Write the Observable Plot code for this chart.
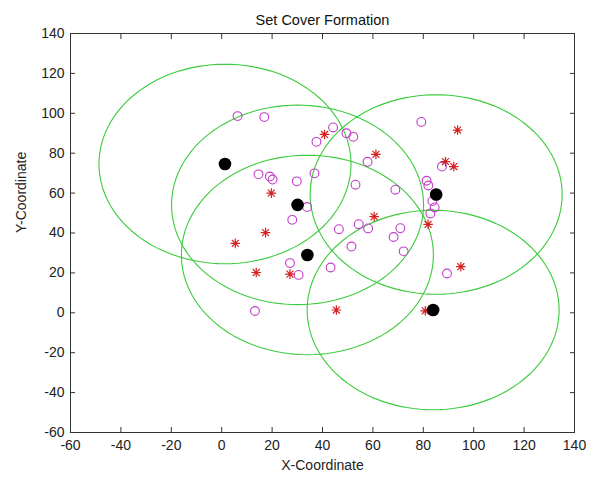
<!DOCTYPE html>
<html>
<head>
<meta charset="utf-8">
<script src="https://cdn.jsdelivr.net/npm/d3@7"></script>
<script src="https://cdn.jsdelivr.net/npm/@observablehq/plot@0.6"></script>
<style>
  html, body { margin: 0; padding: 0; background: #fff; }
  #chart { width: 595px; height: 477px; }
</style>
</head>
<body>
<div id="chart"></div>
<script>
// ---- data ----
const titleText = "Set Cover Formation";
const xLabel = "X-Coordinate";
const yLabel = "Y-Coordinate";
const xTicks = [-60, -40, -20, 0, 20, 40, 60, 80, 100, 120, 140];
const yTicks = [-60, -40, -20, 0, 20, 40, 60, 80, 100, 120, 140];

// hollow magenta circles
const circleX = [6.3, 16.9, 44.2, 49.5, 52.2, 37.6, 14.6, 19.1, 20.2, 29.8, 36.8, 33.9, 28.0, 46.5, 51.5, 43.2, 27.1, 30.5, 13.2,
                 79.2, 57.9, 87.4, 53.1, 68.9, 81.3, 82.0, 83.6, 84.5, 82.8, 54.4, 58.1, 70.9, 68.2, 72.2, 89.4];
const circleY = [98.6, 98.1, 92.9, 90.0, 88.2, 85.7, 69.4, 68.3, 66.8, 65.9, 69.9, 53.0, 46.6, 41.9, 33.2, 22.7, 24.9, 19.0, 0.9,
                 95.7, 75.7, 73.3, 64.2, 61.7, 66.2, 63.8, 56.1, 52.8, 49.8, 44.4, 42.3, 42.4, 38.0, 30.8, 19.7];

// red star points
const starX = [40.8, 19.7, 93.6, 61.2, 88.8, 92.1, 81.9, 60.5, 94.9, 80.8, 17.4, 5.4, 13.7, 27.1, 45.5];
const starY = [89.4, 60.0, 91.6, 79.4, 75.8, 73.3, 44.3, 48.2, 23.1, 1.0, 40.2, 34.8, 20.2, 19.4, 1.4];

// black cover centres and their coverage radius
const centerX = [1.3, 30.1, 34.0, 85.1, 83.9];
const centerY = [74.6, 54.1, 29.0, 59.3, 1.4];
const coverRadius = 50;

// ---- tables built from the arrays ----
const circles = circleX.map((x, i) => ({x, y: circleY[i]}));
const stars = starX.map((x, i) => ({x, y: starY[i]}));
const centers = centerX.map((x, i) => ({x, y: centerY[i]}));
const angles = d3.range(0, 361, 3).map(a => a * Math.PI / 180);
const rings = centers.flatMap((c, id) => angles.map(t => ({
  id, x: c.x + coverRadius * Math.cos(t), y: c.y + coverRadius * Math.sin(t)
})));

// MATLAB-like '*' marker (plus + cross)
const starSymbol = {
  draw(ctx, size) {
    const r = Math.sqrt(size / Math.PI);
    const d = r * 0.72;
    ctx.moveTo(-r, 0); ctx.lineTo(r, 0);
    ctx.moveTo(0, -r); ctx.lineTo(0, r);
    ctx.moveTo(-d, -d); ctx.lineTo(d, d);
    ctx.moveTo(-d, d); ctx.lineTo(d, -d);
  }
};

const green = "#3ccb3c";
const magenta = "#c23cc8";
const red = "#d42020";
const fmt = d => String(d);

const chart = Plot.plot({
  width: 595,
  height: 477,
  marginLeft: 70,
  marginRight: 21,
  marginTop: 33,
  marginBottom: 45,
  style: {fontFamily: "'Liberation Sans', Arial, sans-serif", fontSize: "14px", background: "#fff", color: "#222"},
  x: {domain: [-60, 140]},
  y: {domain: [-60, 140]},
  marks: [
    Plot.line(rings, {x: "x", y: "y", z: "id", stroke: green, strokeWidth: 1.1}),
    Plot.dot(circles, {x: "x", y: "y", r: 4.4, stroke: magenta, strokeWidth: 1.1, fill: "none"}),
    Plot.dot(stars, {x: "x", y: "y", r: 4.8, symbol: starSymbol, stroke: red, strokeWidth: 1.2, fill: "none"}),
    Plot.dot(centers, {x: "x", y: "y", r: 6.3, fill: "#000", stroke: "none"}),
    Plot.frame({stroke: "#333", strokeWidth: 1}),
    // inward ticks on all four sides
    Plot.axisX({ticks: xTicks, anchor: "bottom", tickSize: -5, text: null, label: null, stroke: "#333"}),
    Plot.axisX({ticks: xTicks, anchor: "top", tickSize: -5, text: null, label: null, stroke: "#333"}),
    Plot.axisY({ticks: yTicks, anchor: "left", tickSize: -5, text: null, label: null, stroke: "#333"}),
    Plot.axisY({ticks: yTicks, anchor: "right", tickSize: -5, text: null, label: null, stroke: "#333"}),
    // tick labels
    Plot.axisX({ticks: xTicks, anchor: "bottom", tickSize: 0, tickPadding: 8, tickFormat: fmt, label: null, fill: "#222"}),
    Plot.axisY({ticks: yTicks, anchor: "left", tickSize: 0, tickPadding: 6, tickFormat: fmt, label: null, fill: "#222"}),
    // titles
    Plot.text([titleText], {frameAnchor: "top", dy: -19, fill: "#111", fontSize: 14.5}),
    Plot.text([xLabel], {frameAnchor: "bottom", dy: 37, fill: "#222"}),
    Plot.text([yLabel], {frameAnchor: "left", dx: -49, rotate: -90, fill: "#222"})
  ]
});
document.getElementById("chart").appendChild(chart);
</script>
</body>
</html>
